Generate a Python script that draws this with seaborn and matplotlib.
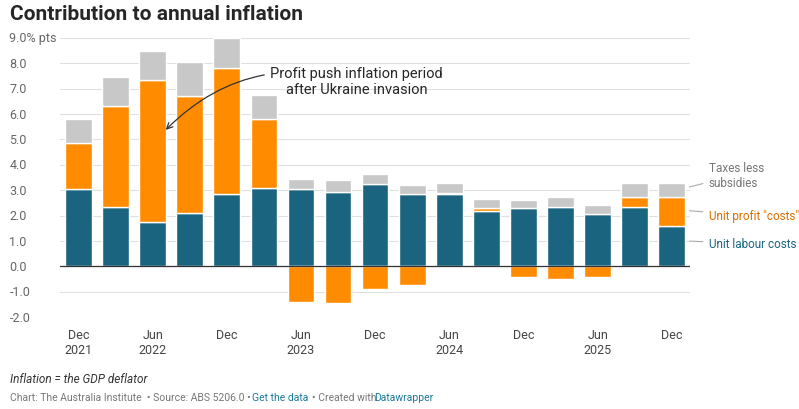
import numpy as np
import matplotlib.pyplot as plt
import seaborn as sns

quarters = ["Dec 2021", "Mar 2022", "Jun 2022", "Sep 2022", "Dec 2022", "Mar 2023",
            "Jun 2023", "Sep 2023", "Dec 2023", "Mar 2024", "Jun 2024", "Sep 2024",
            "Dec 2024", "Mar 2025", "Jun 2025", "Sep 2025", "Dec 2025"]
labour = [3.05, 2.35, 1.75, 2.1, 2.85, 3.1, 3.05, 2.95, 3.25, 2.85, 2.85, 2.2,
          2.3, 2.35, 2.05, 2.35, 1.6]
profit = [1.8, 3.95, 5.6, 4.6, 4.95, 2.7, -1.4, -1.45, -0.9, -0.75, 0.05, 0.1,
          -0.4, -0.5, -0.4, 0.4, 1.15]
taxes = [0.95, 1.15, 1.15, 1.35, 1.2, 0.95, 0.4, 0.45, 0.4, 0.35, 0.4, 0.35,
         0.3, 0.4, 0.35, 0.55, 0.55]
tick_pos = [0, 2, 4, 6, 8, 10, 12, 14, 16]
tick_labels = ["Dec\n2021", "Jun\n2022", "Dec", "Jun\n2023", "Dec", "Jun\n2024", "Dec", "Jun\n2025", "Dec"]
yticks = [-2, -1, 0, 1, 2, 3, 4, 5, 6, 7, 8, 9]

sns.set_style("white")
plt.rcParams['font.family'] = ['Roboto', 'DejaVu Sans']

c_lab, c_prof, c_tax = "#1a6480", "#ff8c00", "#c8c8c8"
fig = plt.figure(figsize=(7.99, 4.10), dpi=100)
ax = fig.add_axes([0.075, 0.224, 0.789, 0.681])

x = np.arange(len(quarters))
lab = np.array(labour); prof = np.array(profit); tax = np.array(taxes)
pos_prof = np.clip(prof, 0, None)
ax.bar(x, lab, width=0.72, color=c_lab, zorder=3)
ax.bar(x, prof, bottom=np.where(prof > 0, lab, 0), width=0.72, color=c_prof, zorder=3)
ax.bar(x, tax, bottom=lab + pos_prof, width=0.72, color=c_tax, zorder=3)

ax.set_ylim(-2, 9)
ax.set_xlim(-0.5, 16.5)
ax.set_yticks(yticks)
ax.set_yticklabels([])
ax.tick_params(axis="y", length=0)
ytr = ax.get_yaxis_transform()
for v in yticks:
    ax.text(-0.08, v, "9.0% pts" if v == 9 else f"{v:.1f}", transform=ytr,
            ha="left", va="center", fontsize=9, color="#666666")
ax.grid(axis="y", color="#e0e0e0", lw=0.8, zorder=0)
ax.axhline(0, color="#333333", lw=0.9, zorder=4)
ax.set_xticks(tick_pos)
ax.set_xticklabels(tick_labels, fontsize=9, color="#444444")
ax.tick_params(axis="x", length=4, color="#333333")
for s in ax.spines.values():
    s.set_visible(False)

ax.annotate("Profit push inflation period\nafter Ukraine invasion", xy=(2.3, 5.3), xytext=(7.5, 7.3),
            ha="center", va="center", fontsize=10.5,
            arrowprops=dict(arrowstyle="->", connectionstyle="arc3,rad=0.3", color="#333333", lw=0.9))

ax.annotate("Taxes less\nsubsidies", xy=(16.4, 3.1), xytext=(17.0, 3.6), annotation_clip=False,
            fontsize=8.5, color="#777777", va="center",
            arrowprops=dict(arrowstyle="-", color="#aaaaaa", lw=0.8))
ax.annotate("Unit profit \"costs\"", xy=(16.4, 2.2), xytext=(17.0, 2.0), annotation_clip=False,
            fontsize=8.5, color="#d96f00", va="center",
            arrowprops=dict(arrowstyle="-", color="#aaaaaa", lw=0.8))
ax.annotate("Unit labour costs", xy=(16.4, 1.0), xytext=(17.0, 0.9), annotation_clip=False,
            fontsize=8.5, color="#1a6480", va="center",
            arrowprops=dict(arrowstyle="-", color="#aaaaaa", lw=0.8))

fig.text(0.012, 0.965, "Contribution to annual inflation", fontsize=15, fontweight="bold", va="center")
fig.text(0.012, 0.065, "Inflation = the GDP deflator", fontsize=8.5, style="italic", color="#333333")
fig.text(0.012, 0.022, "Chart: The Australia Institute  • Source: ABS 5206.0 • ", fontsize=7.5, color="#777777")
fig.text(0.316, 0.022, "Get the data", fontsize=7.5, color="#1a7a9a")
fig.text(0.39, 0.022, "• Created with", fontsize=7.5, color="#777777")
fig.text(0.468, 0.022, "Datawrapper", fontsize=7.5, color="#1a7a9a")

fig.savefig("out.png", dpi=100)
